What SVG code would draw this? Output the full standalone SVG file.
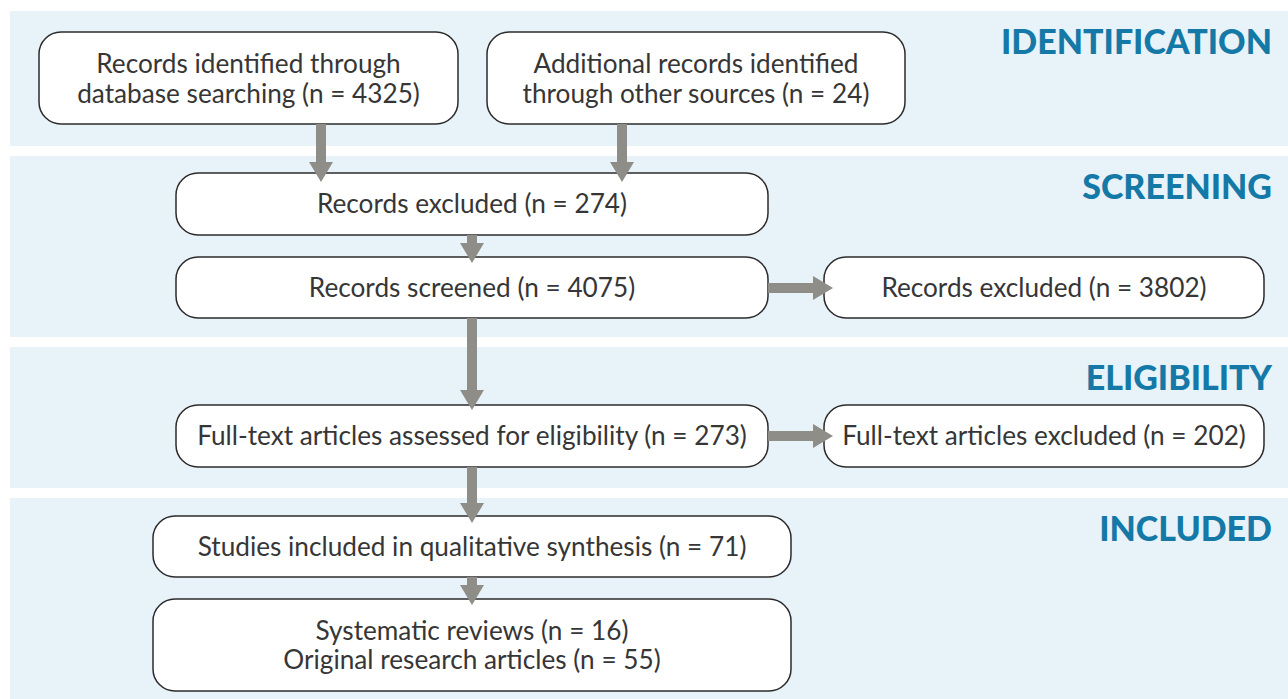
<svg xmlns="http://www.w3.org/2000/svg" width="1288" height="699" viewBox="0 0 1288 699">
<style>
.band{fill:#e8f2f9}
.box{fill:#ffffff;stroke:#2b2b2b;stroke-width:1.5}
.t{font-family:Lato,"Open Sans","Liberation Sans",sans-serif;font-weight:400;font-size:26.2px;fill:#363636;text-anchor:middle}
.h{font-family:Lato,"Open Sans","Liberation Sans",sans-serif;font-weight:900;font-size:34px;fill:#1479a6;text-anchor:end}
.a{stroke:#8e8d88;stroke-width:10;fill:none;marker-end:url(#ah)}
</style>
<defs>
<marker id="ah" markerUnits="userSpaceOnUse" markerWidth="20" markerHeight="24" refX="2" refY="12" orient="auto">
<path d="M0,0 L20,12 L0,24 z" fill="#8e8d88"/>
</marker>
</defs>
<g id="bands">
<rect class="band" x="10" y="11" width="1278" height="135"/>
<rect class="band" x="10" y="156" width="1278" height="181"/>
<rect class="band" x="10" y="347" width="1278" height="141"/>
<rect class="band" x="10" y="498" width="1278" height="201"/>
</g>
<g id="headers">
<text class="h" x="1272" y="54">IDENTIFICATION</text>
<text class="h" x="1272" y="199">SCREENING</text>
<text class="h" x="1272" y="390">ELIGIBILITY</text>
<text class="h" x="1272" y="541">INCLUDED</text>
</g>
<g id="n1"><rect class="box" x="39" y="32" width="419" height="92" rx="22"/>
<text class="t" x="248.5" y="73">Records identified through</text>
<text class="t" x="248.5" y="103">database searching (n = 4325)</text></g>
<g id="n2"><rect class="box" x="487" y="32" width="418" height="92" rx="22"/>
<text class="t" x="696" y="73">Additional records identified</text>
<text class="t" x="696" y="103">through other sources (n = 24)</text></g>
<g id="n3"><rect class="box" x="176" y="173" width="592" height="62" rx="22"/>
<text class="t" x="472" y="213">Records excluded (n = 274)</text></g>
<g id="n4"><rect class="box" x="176" y="257" width="592" height="61" rx="22"/>
<text class="t" x="472" y="297">Records screened (n = 4075)</text></g>
<g id="n5"><rect class="box" x="824" y="257" width="440" height="61" rx="22"/>
<text class="t" x="1044" y="297">Records excluded (n = 3802)</text></g>
<g id="n6"><rect class="box" x="176" y="405" width="592" height="62" rx="22"/>
<text class="t" x="472" y="445">Full-text articles assessed for eligibility (n = 273)</text></g>
<g id="n7"><rect class="box" x="824" y="405" width="440" height="62" rx="22"/>
<text class="t" x="1044" y="445">Full-text articles excluded (n = 202)</text></g>
<g id="n8"><rect class="box" x="153" y="516" width="638" height="61" rx="22"/>
<text class="t" x="472" y="556">Studies included in qualitative synthesis (n = 71)</text></g>
<g id="n9"><rect class="box" x="153" y="599" width="638" height="92" rx="22"/>
<text class="t" x="472" y="640">Systematic reviews (n = 16)</text>
<text class="t" x="472" y="669">Original research articles (n = 55)</text></g>
<g id="connectors">
<line class="a" x1="321" y1="124" x2="321" y2="164"/>
<line class="a" x1="622" y1="124" x2="622" y2="164"/>
<line class="a" x1="472" y1="235" x2="472" y2="245"/>
<line class="a" x1="472" y1="318" x2="472" y2="392"/>
<line class="a" x1="472" y1="467" x2="472" y2="505"/>
<line class="a" x1="472" y1="577" x2="472" y2="587"/>
<line class="a" x1="768" y1="288" x2="815" y2="288"/>
<line class="a" x1="768" y1="436" x2="815" y2="436"/>
</g>
</svg>
